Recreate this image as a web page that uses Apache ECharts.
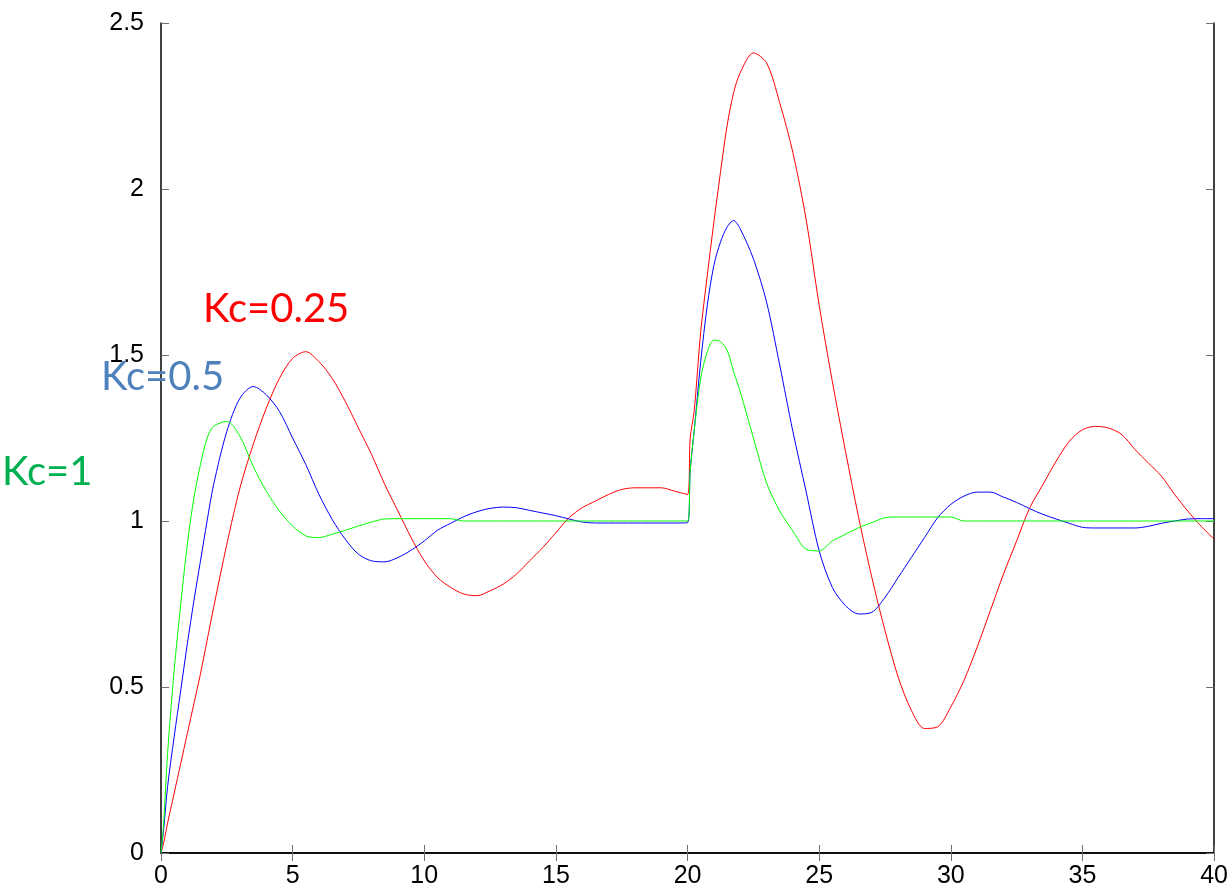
<!DOCTYPE html>
<html><head><meta charset="utf-8">
<script src="https://cdn.jsdelivr.net/npm/echarts@6/dist/echarts.min.js"></script>
<style>html,body{margin:0;padding:0;background:#fff}#c{width:1231px;height:894px}</style>
</head><body><div id="c"></div>
<script>
const times = [0, 0.1, 0.25, 0.5, 0.75, 1, 1.25, 1.5, 1.75, 2,
 2.5, 3, 3.5, 4, 4.5, 5, 5.5, 6, 6.5, 7,
 7.5, 8, 8.5, 9, 9.5, 10, 10.5, 11, 11.5, 12,
 12.5, 13, 13.5, 14, 14.5, 15, 15.5, 16, 16.5, 17,
 17.5, 18, 18.5, 19, 19.5, 20, 20.1, 20.25, 20.5, 20.75,
 21, 21.25, 21.5, 21.75, 22, 22.5, 23, 23.5, 24, 24.5,
 25, 25.5, 26, 26.5, 27, 27.5, 28, 28.5, 29, 29.5,
 30, 30.5, 31, 31.5, 32, 32.5, 33, 33.5, 34, 34.5,
 35, 35.5, 36, 36.5, 37, 37.5, 38, 38.5, 39, 39.5,
 40];
const kc025 = [0, 0.03, 0.09, 0.18, 0.27, 0.36, 0.45, 0.54, 0.64, 0.74,
 0.93, 1.10, 1.23, 1.34, 1.43, 1.49, 1.51, 1.48, 1.43, 1.36,
 1.28, 1.20, 1.11, 1.03, 0.95, 0.88, 0.83, 0.80, 0.78, 0.775,
 0.79, 0.81, 0.84, 0.88, 0.92, 0.965, 1.01, 1.04, 1.06, 1.08,
 1.095, 1.10, 1.10, 1.10, 1.09, 1.08, 1.25, 1.33, 1.57, 1.74,
 1.90, 2.05, 2.19, 2.29, 2.35, 2.41, 2.38, 2.26, 2.11, 1.91,
 1.65, 1.42, 1.21, 1.01, 0.83, 0.67, 0.53, 0.43, 0.375, 0.38,
 0.44, 0.52, 0.62, 0.73, 0.84, 0.94, 1.04, 1.11, 1.18, 1.24,
 1.275, 1.285, 1.28, 1.26, 1.215, 1.175, 1.135, 1.08, 1.03, 0.985,
 0.945];
const kc05 = [0, 0.07, 0.2, 0.35, 0.49, 0.63, 0.76, 0.88, 1.0, 1.11,
 1.27, 1.37, 1.405, 1.38, 1.33, 1.25, 1.17, 1.08, 1.005, 0.945,
 0.90, 0.88, 0.877, 0.89, 0.912, 0.94, 0.972, 0.993, 1.013, 1.028,
 1.038, 1.042, 1.04, 1.032, 1.024, 1.016, 1.006, 0.997, 0.994, 0.994,
 0.994, 0.994, 0.994, 0.994, 0.994, 0.995, 1.15, 1.27, 1.48, 1.65,
 1.77, 1.84, 1.885, 1.905, 1.88, 1.79, 1.66, 1.47, 1.27, 1.09,
 0.91, 0.80, 0.745, 0.72, 0.725, 0.77, 0.83, 0.89, 0.95, 1.01,
 1.05, 1.075, 1.087, 1.087, 1.072, 1.056, 1.037, 1.02, 1.006, 0.993,
 0.981, 0.979, 0.979, 0.979, 0.979, 0.984, 0.993, 1.0, 1.006, 1.007,
 1.007];
const kc1 = [0, 0.09, 0.3, 0.55, 0.75, 0.93, 1.07, 1.17, 1.25, 1.285,
 1.30, 1.255, 1.165, 1.09, 1.03, 0.985, 0.955, 0.95, 0.96, 0.972,
 0.985, 0.997, 1.006, 1.007, 1.007, 1.007, 1.007, 1.007, 1.0, 1.0,
 1.0, 1.0, 1.0, 1.0, 1.0, 1.0, 1.0, 1.0, 1.0, 1.0,
 1.0, 1.0, 1.0, 1.0, 1.0, 1.0, 1.15, 1.27, 1.43, 1.51,
 1.545, 1.54, 1.515, 1.45, 1.39, 1.25, 1.115, 1.03, 0.97, 0.915,
 0.91, 0.94, 0.96, 0.98, 0.995, 1.01, 1.012, 1.012, 1.012, 1.012,
 1.012, 1.0, 1.0, 1.0, 1.0, 1.0, 1.0, 1.0, 1.0, 1.0,
 1.0, 1.0, 1.0, 1.0, 1.0, 1.0, 1.0, 1.0, 1.0, 1.0,
 1.0];
const seriesNames = ['Kc=0.25', 'Kc=0.5', 'Kc=1'];

const pair = arr => times.map((t, i) => [t, arr[i]]);
const chart = echarts.init(document.getElementById('c'), null, {renderer: 'canvas'});

const tickStyle = {inside: true, length: 8, lineStyle: {color: '#707070', width: 1}};
const lineStyleAxis = {lineStyle: {color: '#000', width: 1.5}};
const lbl = {color: '#000', fontSize: 25, fontFamily: 'Liberation Sans, Arial, sans-serif'};

chart.setOption({
  animation: false,
  backgroundColor: '#fff',
  grid: {left: 161, top: 23, right: 16, bottom: 41, containLabel: false},
  xAxis: [
    {type: 'value', min: 0, max: 40, interval: 5, position: 'bottom',
     axisLine: lineStyleAxis, axisTick: tickStyle,
     axisLabel: Object.assign({margin: 11}, lbl), splitLine: {show: false}},
    {type: 'value', min: 0, max: 40, interval: 5, position: 'top',
     axisLine: lineStyleAxis, axisTick: tickStyle,
     axisLabel: {show: false}, splitLine: {show: false}}
  ],
  yAxis: [
    {type: 'value', min: 0, max: 2.5, interval: 0.5, position: 'left',
     axisLine: Object.assign({onZero: false}, lineStyleAxis), axisTick: tickStyle,
     axisLabel: Object.assign({margin: 17}, lbl), splitLine: {show: false}},
    {type: 'value', min: 0, max: 2.5, interval: 0.5, position: 'right',
     axisLine: Object.assign({onZero: false}, lineStyleAxis), axisTick: tickStyle,
     axisLabel: {show: false}, splitLine: {show: false}}
  ],
  series: [
    {name: seriesNames[0], type: 'line', data: pair(kc025), showSymbol: false, smooth: 0.3,
     lineStyle: {color: '#ff0000', width: 1}, z: 3},
    {name: seriesNames[1], type: 'line', data: pair(kc05), showSymbol: false, smooth: 0.3,
     lineStyle: {color: '#0000ff', width: 1}, z: 4},
    {name: seriesNames[2], type: 'line', data: pair(kc1), showSymbol: false, smooth: 0.3,
     lineStyle: {color: '#00ff00', width: 1}, z: 5}
  ],
  graphic: [
    {type: 'text', x: 203, y: 309, z: 100, style: {text: seriesNames[0], fill: '#ff0000', font: '40px Lato', textVerticalAlign: 'middle'}},
    {type: 'text', x: 101, y: 377, z: 100, style: {text: seriesNames[1], fill: '#4f81bd', font: '40px Lato', textVerticalAlign: 'middle'}},
    {type: 'text', x: 2, y: 472, z: 100, style: {text: seriesNames[2], fill: '#00b050', font: '40px Lato', textVerticalAlign: 'middle'}}
  ]
});
</script></body></html>
